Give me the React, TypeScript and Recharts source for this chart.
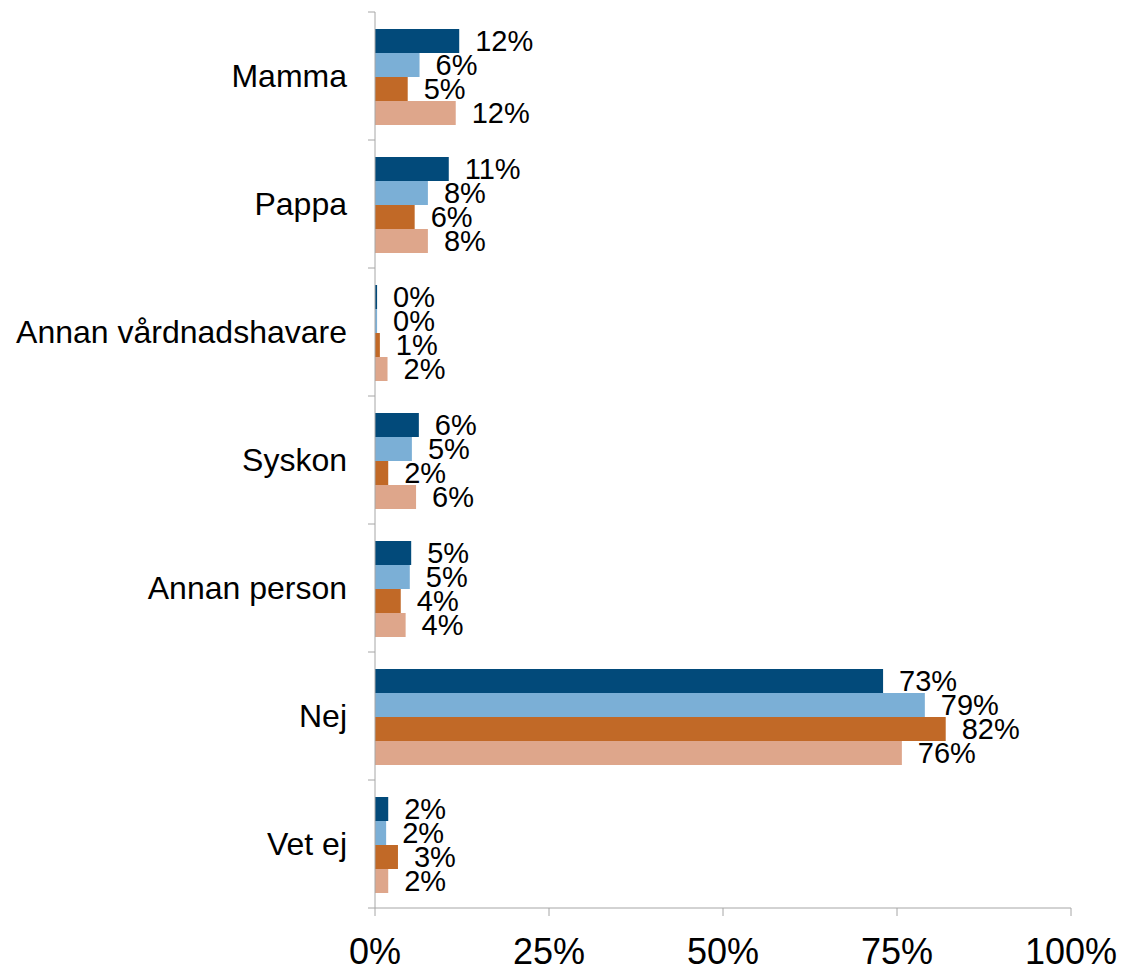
import { BarChart, Bar, XAxis, YAxis, LabelList } from "recharts";

const categories = [
  "Mamma",
  "Pappa",
  "Annan vårdnadshavare",
  "Syskon",
  "Annan person",
  "Nej",
  "Vet ej",
];

const serie1 = [12.1, 10.6, 0.3, 6.3, 5.2, 73.0, 1.9];
const serie2 = [6.4, 7.6, 0.3, 5.3, 5.0, 79.0, 1.6];
const serie3 = [4.7, 5.7, 0.7, 1.9, 3.7, 82.0, 3.3];
const serie4 = [11.6, 7.6, 1.8, 5.9, 4.4, 75.7, 1.9];

const xTicks = [0, 25, 50, 75, 100];

const SERIES = [
  { key: "s1", name: "Serie 1", values: serie1, color: "#024a7a" },
  { key: "s2", name: "Serie 2", values: serie2, color: "#7bafd6" },
  { key: "s3", name: "Serie 3", values: serie3, color: "#c16927" },
  { key: "s4", name: "Serie 4", values: serie4, color: "#dea68b" },
];

const W = 1125;
const H = 971;
const MARGIN = { top: 12, right: 54, bottom: 0, left: 0 };
const X_AXIS_H = 63;
const PLOT_H = H - MARGIN.top - MARGIN.bottom - X_AXIS_H;
const BAND = PLOT_H / categories.length;

const FONT = "'Liberation Sans', Arial, sans-serif";
const AXIS_GRAY = "#a6a6a6";

const data = categories.map((cat, i) => {
  const row: Record<string, string | number> = { cat };
  SERIES.forEach((s) => {
    row[s.key] = s.values[i];
  });
  return row;
});

function CategoryTick(props: any) {
  const { x, y, payload, index } = props;
  const axisX = x + 28;
  const last = index === categories.length - 1;
  return (
    <g>
      <line x1={axisX - 7} x2={axisX} y1={y - BAND / 2} y2={y - BAND / 2} stroke={AXIS_GRAY} />
      {last && (
        <line x1={axisX - 7} x2={axisX} y1={y + BAND / 2} y2={y + BAND / 2} stroke={AXIS_GRAY} />
      )}
      <text
        x={x}
        y={y}
        dy={11}
        textAnchor="end"
        fill="#000"
        fontSize={32}
        fontFamily={FONT}
      >
        {payload.value}
      </text>
    </g>
  );
}

export default function App() {
  return (
    <div style={{ position: "absolute", left: 0, top: 0, background: "#fff" }}>
      <BarChart
        width={W}
        height={H}
        data={data}
        layout="vertical"
        margin={MARGIN}
        barCategoryGap={17}
        barGap={0}
      >
        <XAxis
          type="number"
          domain={[0, 100]}
          ticks={xTicks}
          tickFormatter={(v: number) => `${v}%`}
          height={X_AXIS_H}
          stroke={AXIS_GRAY}
          tickSize={8}
          tickMargin={22}
          tick={{ fill: "#000", fontSize: 36, fontFamily: FONT }}
        />
        <YAxis
          type="category"
          dataKey="cat"
          width={375}
          stroke={AXIS_GRAY}
          tickLine={false}
          tickSize={7}
          tickMargin={21}
          interval={0}
          tick={<CategoryTick />}
        />
        {SERIES.map((s) => (
          <Bar
            key={s.key}
            dataKey={s.key}
            name={s.name}
            fill={s.color}
            isAnimationActive={false}
          >
            <LabelList
              dataKey={s.key}
              position="right"
              offset={16}
              formatter={(v: any) => `${Math.round(Number(v))}%`}
              fill="#000"
              fontSize={29}
              fontFamily={FONT}
            />
          </Bar>
        ))}
      </BarChart>
    </div>
  );
}
